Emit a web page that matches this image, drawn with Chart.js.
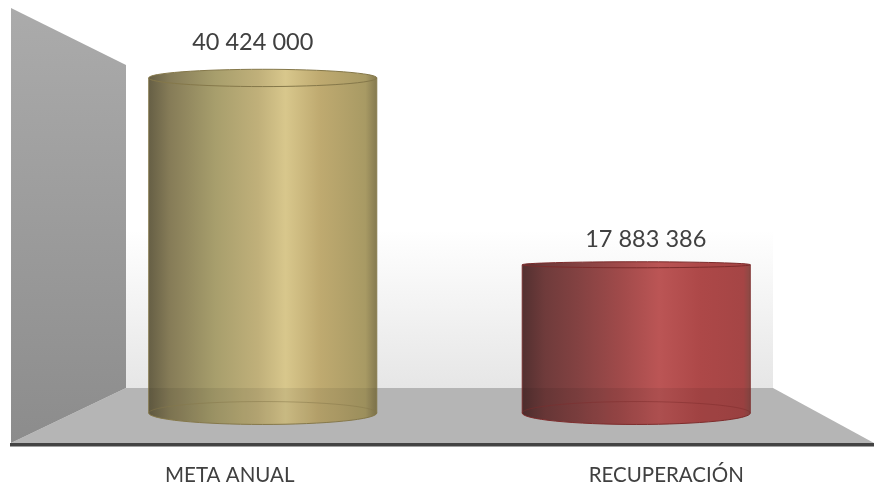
<!DOCTYPE html>
<html>
<head>
<meta charset="utf-8">
<style>
  html, body { margin: 0; padding: 0; background: #fff; }
  canvas { display: block; }
</style>
<script src="https://cdn.jsdelivr.net/npm/chart.js@4/dist/chart.umd.min.js"></script>
</head>
<body>
<canvas id="chart" width="874" height="483"></canvas>
<script>
const categories = ['META ANUAL', 'RECUPERACIÓN'];
const values = [40424000, 17883386];
const valueLabels = ['40 424 000', '17 883 386'];

// horizontal gradient of each cylinder, dark side to highlight to right edge
const goldStops = [[0, '#665f45'], [0.09, '#857b57'], [0.29, '#a79e6c'], [0.48, '#c0b07a'], [0.6, '#d8c78c'], [0.75, '#bfaa70'], [0.95, '#a89a64'], [1, '#857a50']];
const redStops = [[0, '#533030'], [0.1, '#6f3b3b'], [0.25, '#844242'], [0.43, '#a04a4a'], [0.6, '#bb5555'], [0.78, '#ad4848'], [0.97, '#a54545'], [1, '#8a4a45']];
const palettes = [goldStops, redStops];
const rims = ['#85784a', '#7d2c2c'];

const TEXT = '#404040';
const FLOOR_BACK = 388;

function bodyGradient(ctx, left, right, stops) {
  const g = ctx.createLinearGradient(left, 0, right, 0);
  stops.forEach(([at, color]) => g.addColorStop(at, color));
  return g;
}

// ellipse gets flatter close to the eye line, like the 3d original
function ellipseHeight(y) {
  return Math.max(3, Math.abs(y - 222) * 0.06);
}

const backdrop = {
  id: 'backdrop',
  beforeDatasetsDraw(chart) {
    const { ctx } = chart;
    ctx.save();

    // back wall
    const wall = ctx.createLinearGradient(0, 230, 0, FLOOR_BACK);
    wall.addColorStop(0, '#ffffff');
    wall.addColorStop(1, '#e6e6e6');
    ctx.fillStyle = wall;
    ctx.fillRect(126, 65, 647, FLOOR_BACK - 65);

    // floor
    ctx.fillStyle = '#b5b5b5';
    ctx.beginPath();
    ctx.moveTo(126, FLOOR_BACK);
    ctx.lineTo(773, FLOOR_BACK);
    ctx.lineTo(874, 443);
    ctx.lineTo(11, 443);
    ctx.closePath();
    ctx.fill();

    // side wall
    const side = ctx.createLinearGradient(0, 8, 0, 443);
    side.addColorStop(0, '#ababab');
    side.addColorStop(1, '#8c8c8c');
    ctx.fillStyle = side;
    ctx.beginPath();
    ctx.moveTo(11, 8);
    ctx.lineTo(126, 65);
    ctx.lineTo(126, FLOOR_BACK);
    ctx.lineTo(11, 443);
    ctx.closePath();
    ctx.fill();

    // base line
    ctx.fillStyle = '#434343';
    ctx.fillRect(10, 443, 864, 3.5);
    ctx.restore();
  }
};

const cylinders = {
  id: 'cylinders',
  afterDatasetsDraw(chart) {
    const { ctx } = chart;
    const base = chart.scales.y.getPixelForValue(0);
    chart.getDatasetMeta(0).data.forEach((bar, i) => {
      const rx = bar.width / 2;
      const left = bar.x - rx;
      const right = bar.x + rx;
      const baseRy = ellipseHeight(base);
      const topRy = ellipseHeight(bar.y);
      ctx.save();

      // rounded bottom
      ctx.fillStyle = bodyGradient(ctx, left, right, palettes[i]);
      ctx.beginPath();
      ctx.ellipse(bar.x, base, rx, baseRy, 0, 0, Math.PI);
      ctx.closePath();
      ctx.fill();

      // part in front of the floor is a bit darker
      ctx.fillStyle = 'rgba(0,0,0,0.07)';
      ctx.beginPath();
      ctx.moveTo(left, FLOOR_BACK);
      ctx.lineTo(right, FLOOR_BACK);
      ctx.lineTo(right, base);
      ctx.ellipse(bar.x, base, rx, baseRy, 0, 0, Math.PI);
      ctx.closePath();
      ctx.fill();

      ctx.strokeStyle = rims[i];
      ctx.lineWidth = 1;
      ctx.beginPath();
      ctx.ellipse(bar.x, base, rx, baseRy, 0, 0, Math.PI);
      ctx.stroke();
      ctx.globalAlpha = 0.5;
      ctx.beginPath();
      ctx.ellipse(bar.x, base, rx, baseRy, 0, Math.PI, Math.PI * 2);
      ctx.stroke();
      ctx.globalAlpha = 1;

      // sides
      ctx.globalAlpha = 0.8;
      ctx.beginPath();
      ctx.moveTo(left, bar.y);
      ctx.lineTo(left, base);
      ctx.moveTo(right, bar.y);
      ctx.lineTo(right, base);
      ctx.stroke();
      ctx.globalAlpha = 1;

      // open top
      ctx.fillStyle = bodyGradient(ctx, left, right, palettes[i]);
      ctx.beginPath();
      ctx.ellipse(bar.x, bar.y, rx, topRy, 0, 0, Math.PI * 2);
      ctx.fill();
      ctx.stroke();

      // value above the cylinder
      ctx.fillStyle = TEXT;
      ctx.font = '23.5px Lato';
      ctx.textAlign = 'center';
      ctx.textBaseline = 'middle';
      if (i === 0) ctx.fillText(valueLabels[i], bar.x - 10, bar.y - 35.5);
      else ctx.fillText(valueLabels[i], bar.x + 9.5, bar.y - 25);
      ctx.restore();
    });
  }
};

const categoryLabels = {
  id: 'categoryLabels',
  afterDraw(chart) {
    const { ctx } = chart;
    const meta = chart.getDatasetMeta(0).data;
    ctx.save();
    ctx.fillStyle = TEXT;
    ctx.font = '20.5px Lato';
    ctx.textAlign = 'center';
    ctx.textBaseline = 'middle';
    // labels sit wider apart than the cylinders in the original
    ctx.fillText(categories[0], meta[0].x - 33, 475);
    ctx.fillText(categories[1], meta[1].x + 30, 475);
    ctx.restore();
  }
};

new Chart(document.getElementById('chart'), {
  type: 'bar',
  data: {
    labels: categories,
    datasets: [{
      data: values,
      borderWidth: 0,
      barPercentage: 0.611,
      categoryPercentage: 1,
      backgroundColor(context) {
        const { chart, dataIndex } = context;
        if (!chart.chartArea) return '#999';
        const center = chart.scales.x.getPixelForValue(dataIndex);
        const half = chart.chartArea.width / 2 * 0.611 / 2;
        return bodyGradient(chart.ctx, center - half, center + half, palettes[dataIndex]);
      }
    }]
  },
  options: {
    responsive: false,
    animation: false,
    layout: { padding: { left: 76, right: 51, top: 40, bottom: 70 } },
    plugins: { legend: { display: false }, tooltip: { enabled: false } },
    scales: {
      x: { display: false },
      y: { display: false, min: 0, max: 45000000 }
    }
  },
  plugins: [backdrop, cylinders, categoryLabels]
});
</script>
</body>
</html>
